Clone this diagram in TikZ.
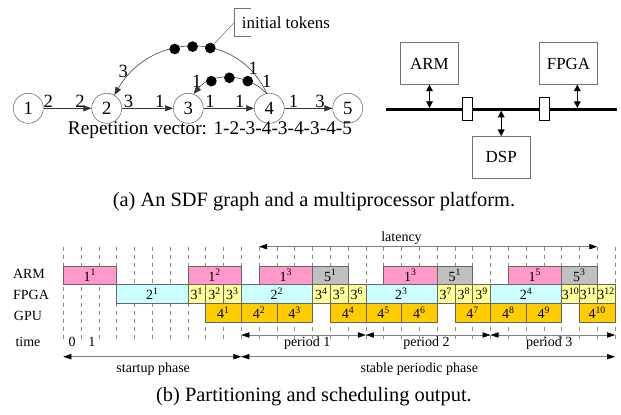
\documentclass[tikz,border=0pt]{standalone}
\usepackage{fontspec}
\setmainfont{Liberation Serif}
\usetikzlibrary{arrows.meta}
\usetikzlibrary{positioning}
\usetikzlibrary{calc}

\definecolor{armpink}{HTML}{FF99CC}
\definecolor{fpgacyan}{HTML}{CCFFFF}
\definecolor{fpgayellow}{HTML}{FFFF99}
\definecolor{gpuorange}{HTML}{FFCC00}
\definecolor{sinkgray}{HTML}{C0C0C0}

\tikzset{
  actor/.style={circle, draw=black!60, minimum size=22.5pt, inner sep=0pt,
                font=\fontsize{14}{16}\selectfont},
  edge/.style={draw=black!80, -{Triangle[length=6pt,width=4.5pt]}},
  rate/.style={font=\fontsize{14}{16}\selectfont, inner sep=0.5pt, anchor=south},
  token/.style={circle, fill=black, minimum size=8pt, inner sep=0pt},
  callout/.style={draw=black!55},
  pe/.style={draw=black!55, minimum width=43.2pt, minimum height=31.2pt,
             font=\fontsize{12.7}{14}\selectfont},
  bridge/.style={draw, fill=white, minimum width=7.5pt, minimum height=17.5pt, inner sep=0pt},
  link/.style={line width=0.9pt, {Triangle[length=5pt,width=5pt]}-{Triangle[length=5pt,width=5pt]}},
  task/.style={draw=black!60, minimum height=14pt, inner sep=0pt, outer sep=0pt,
               font=\fontsize{10.5}{12}\selectfont},
  gtext/.style={font=\fontsize{10.5}{12}\selectfont, inner sep=0pt, anchor=base},
  grid/.style={draw=black!45, dash pattern=on 3pt off 3pt},
  span/.style={draw=black!50, {Triangle[length=6pt,width=4pt,color=black]}-{Triangle[length=6pt,width=4pt,color=black]}},
  caption/.style={font=\fontsize{15.3}{18}\selectfont, inner sep=0pt, anchor=base}
}

\begin{document}
\begin{tikzpicture}[x=0.75pt, y=-0.75pt]
\useasboundingbox (0,0) rectangle (621,414);

% SDF graph
\node[actor] (a1) at (28.3,108.3) {1};
\node[actor] (a2) at (106.7,108.3) {2};
\node[actor] (a3) at (188.3,108.3) {3};
\node[actor] (a4) at (269.3,108.3) {4};
\node[actor] (a5) at (347.7,108.3) {5};

\draw[edge] (a1) -- node[rate,pos=0.1] (r12s) {2} node[rate,pos=0.76] (r12e) {2} (a2);
\draw[edge] (a2) -- node[rate,pos=0.13] (r23s) {3} node[rate,pos=0.74] (r23e) {1} (a3);
\draw[edge] (a3) -- node[rate,pos=0.13] (r34s) {1} node[rate,pos=0.72] (r34e) {1} (a4);
\draw[edge] (a4) -- node[rate,pos=0.19] (r45s) {1} node[rate,pos=0.74] (r45e) {3} (a5);

\draw[edge] (a4.100) to[out=115,in=60,looseness=1.2]
  node[token,pos=0.4] (k1) {} node[token,pos=0.5] (k2) {} node[token,pos=0.6] (k3) {} (a2.60);
\draw[edge] (a4.100) to[out=135,in=50]
  node[token,pos=0.27] (m1) {} node[token,pos=0.5] (m2) {} node[token,pos=0.73] (m3) {} (a3.70);

\node[rate,anchor=center] (r42s) at (253.3,68.3) {1};
\node[rate,anchor=center] (r42e) at (123.3,71.7) {3};
\node[rate,anchor=center] (r43s) at (266.7,81.7) {1};
\node[rate,anchor=center] (r43e) at (196.7,81.7) {1};

% initial tokens callout
\coordinate (brk) at (234.3,22.5);
\draw[callout] (k1) -- (brk);
\draw[callout] (251,8.3) -- (234.3,8.3) -- (234.3,36.5) -- (251,36.5);
\node[font=\fontsize{12.7}{14}\selectfont, inner sep=0pt, anchor=west] (itok) at (241.7,22.5) {initial tokens};

\node[font=\fontsize{14.5}{16}\selectfont, inner sep=0pt, anchor=base] (rep) at (210,134)
  {Repetition vector: 1-2-3-4-3-4-3-4-5};

% platform
\node[pe] (arm) at (429.5,63.5) {ARM};
\node[pe] (fpga) at (568.5,63.5) {FPGA};
\node[pe] (dsp) at (501.2,157.2) {DSP};
\coordinate (busL) at (386,109.3);
\coordinate (busR) at (616.7,109.3);
\draw[line width=2.3pt] (busL) -- (busR);
\node[bridge] (br1) at (467.7,109) {};
\node[bridge] (br2) at (544,109) {};
\draw[link] (arm.south) -- ([yshift=1pt]arm.south |- busL);
\draw[link] ([xshift=6.6pt]fpga.south) -- ([xshift=6.6pt,yshift=1pt]fpga.south |- busL);
\draw[link] (dsp.north) -- ([yshift=-1pt]dsp.north |- busL);

\node[caption] (capa) at (314,206.7) {(a) An SDF graph and a multiprocessor platform.};

% schedule
\node[gtext] (larm) at (29,278.3) {ARM};
\node[gtext] (lfpga) at (31,299) {FPGA};
\node[gtext] (lgpu) at (28,320) {GPU};
\node[gtext] (ltime) at (28,346.7) {time};

\begin{scope}[shift={(63.3,0)}, x=13.35pt]
  \foreach \t in {0,...,31}
    \draw[grid] (\t,246.7) -- (\t,341.7);

  \foreach \r/\s/\e/\n/\k/\c [count=\i] in {
      0/0/3/1/1/armpink, 0/7/10/1/2/armpink, 0/11/14/1/3/armpink, 0/14/16/5/1/sinkgray,
      0/18/21/1/3/armpink, 0/21/23/5/1/sinkgray, 0/25/28/1/5/armpink, 0/28/30/5/3/sinkgray,
      1/3/7/2/1/fpgacyan, 1/7/8/3/1/fpgayellow, 1/8/9/3/2/fpgayellow, 1/9/10/3/3/fpgayellow,
      1/10/14/2/2/fpgacyan, 1/14/15/3/4/fpgayellow, 1/15/16/3/5/fpgayellow, 1/16/17/3/6/fpgayellow,
      1/17/21/2/3/fpgacyan, 1/21/22/3/7/fpgayellow, 1/22/23/3/8/fpgayellow, 1/23/24/3/9/fpgayellow,
      1/24/28/2/4/fpgacyan, 1/28/29/3/10/fpgayellow, 1/29/30/3/11/fpgayellow, 1/30/31/3/12/fpgayellow,
      2/8/10/4/1/gpuorange, 2/10/12/4/2/gpuorange, 2/12/14/4/3/gpuorange, 2/15/17/4/4/gpuorange,
      2/17/19/4/5/gpuorange, 2/19/21/4/6/gpuorange, 2/22/24/4/7/gpuorange, 2/24/26/4/8/gpuorange,
      2/26/28/4/9/gpuorange, 2/29/31/4/10/gpuorange}
    \node[task, fill=\c, minimum width={(\e-\s)*13.35pt}, anchor=west]
      (task\i) at (\s,{275.3+18.7*\r}) {\n\textsuperscript{\k}};

  \node[gtext] (t0) at (0.5,346.7) {0};
  \node[gtext] (t1) at (1.6,346.7) {1};

  \draw[span] (11,246.7) -- (30,246.7);
  \node[gtext] (lat) at (19,241) {latency};

  \draw[span] (10,335) -- (17,335);
  \draw[span] (17,335) -- (24,335);
  \draw[span] (24,335) -- (31,335);
  \node[gtext] (p1) at (13.7,346.7) {period 1};
  \node[gtext] (p2) at (20.4,346.7) {period 2};
  \node[gtext] (p3) at (27.3,346.7) {period 3};

  \draw[span] (0,356.7) -- (10,356.7);
  \draw[span] (10,356.7) -- (31,356.7);
  \node[gtext] (startup) at (5.05,372) {startup phase};
  \node[gtext] (stable) at (20,372) {stable periodic phase};
\end{scope}

\node[caption] (capb) at (314,401.7) {(b) Partitioning and scheduling output.};
\end{tikzpicture}
\end{document}
